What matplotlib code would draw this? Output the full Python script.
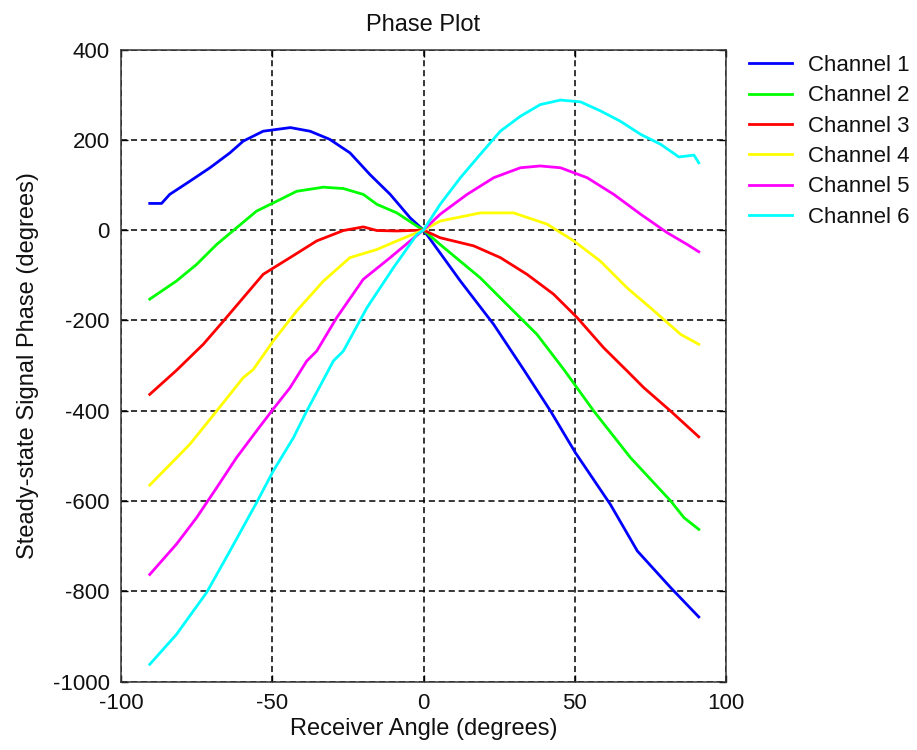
import matplotlib
matplotlib.use("Agg")
import matplotlib.pyplot as plt
import numpy as np

plt.rcParams['font.family'] = ['Liberation Sans', 'DejaVu Sans']
plt.rcParams['axes.unicode_minus'] = False

labels = ["Channel 1", "Channel 2", "Channel 3", "Channel 4", "Channel 5", "Channel 6"]
colors = ["#0000ff", "#00ff00", "#ff0000", "#ffff00", "#ff00ff", "#00ffff"]

ch1_x = [-90.5, -86.6, -83.9, -77.3, -70.6, -64, -59.6, -53, -44, -37.5, -31, -24.3, -17.7, -11, -4.4, 0,
         1.1, 12.2, 23.2, 33.1, 42, 50.2, 61.8, 70.7, 81.7, 91]
ch1_y = [59, 59, 79, 108, 138, 171, 197, 219, 227, 219, 201, 171, 123, 79, 27, 0,
         -10, -113, -209, -309, -401, -493, -608, -711, -792, -857]

ch2_x = [-90.5, -81.7, -75, -68.4, -61.8, -55.2, -48.5, -41.9, -33.1, -26.5, -19.9, -15.4, -8.8, -2.2, 0,
         5.5, 18.8, 27.6, 37.5, 46.4, 56.3, 68.4, 81.7, 86.1, 91]
ch2_y = [-153, -113, -76, -32, 5, 42, 64, 86, 95, 92, 79, 57, 38, 9, 0,
         -32, -106, -165, -231, -309, -401, -504, -600, -637, -663]

ch3_x = [-90.5, -81.7, -72.8, -66.2, -59.6, -53, -44.1, -35.3, -26.5, -19.9, -15.4, -8.8, 0,
         5.5, 16.6, 25.4, 34.2, 43, 50.8, 59.6, 67.3, 72.8, 81.7, 91]
ch3_y = [-364, -311, -253, -202, -150, -98, -61, -24, -1, 7, -1, -2, 0,
         -17, -35, -61, -98, -142, -194, -261, -312, -349, -401, -458]

ch4_x = [-90.5, -77.3, -68.4, -59.6, -56.3, -49.7, -41.9, -33.1, -24.3, -15.4, -8.8, 0,
         5.5, 18.8, 29.8, 40.9, 49.7, 58.5, 67.3, 76.2, 85, 91]
ch4_y = [-565, -475, -401, -327, -309, -246, -179, -113, -61, -43, -24, 0,
         20, 38, 38, 13, -24, -69, -128, -179, -231, -253]

ch5_x = [-90.5, -81.7, -75, -68.4, -61.8, -55.2, -50.2, -44.1, -38.6, -35.3, -28.7, -19.9, -11, -4.4, 0,
         5.5, 14.4, 23.2, 32, 38.6, 45.3, 54.1, 62.9, 71.8, 80.6, 87.2, 91]
ch5_y = [-763, -696, -637, -571, -504, -445, -401, -349, -290, -268, -194, -109, -61, -24, 0,
         35, 79, 116, 138, 142, 138, 116, 79, 35, -6, -32, -48]

ch6_x = [-90.5, -81.7, -71.7, -64, -55.2, -49.7, -43, -38.6, -29.8, -26.5, -18.7, -9.9, -2.2, 0,
         5.5, 12.2, 18.8, 25.4, 32, 38.6, 45.3, 51.9, 58.5, 65.1, 71.8, 78.4, 84.4, 89.4, 91]
ch6_y = [-962, -896, -803, -711, -604, -534, -460, -401, -290, -268, -172, -83, -10, 0,
         57, 116, 168, 219, 252, 278, 288, 284, 264, 241, 212, 190, 162, 166, 149]

xs = [ch1_x, ch2_x, ch3_x, ch4_x, ch5_x, ch6_x]
ys = [ch1_y, ch2_y, ch3_y, ch4_y, ch5_y, ch6_y]

W, H = 917, 750
fig = plt.figure(figsize=(W / 100, H / 100), dpi=100)
ax = fig.add_axes([121 / W, 1 - 681.5 / H, (726 - 121) / W, (681.5 - 49.5) / H])

for x, y, c, l in zip(xs, ys, colors, labels):
    ax.plot(x, y, color=c, lw=2.0, label=l)

ax.set_xlim(-100, 100)
ax.set_ylim(-1000, 400)
ax.set_xticks([-100, -50, 0, 50, 100])
ax.set_yticks([-1000, -800, -600, -400, -200, 0, 200, 400])
ax.grid(True, color='black', linestyle=(0, (4, 2.5)), lw=1.1)
ax.tick_params(direction='in', labelsize=16, length=5, width=1.0, colors='black',
               top=True, right=True, pad=8, labelcolor='#111111')
for s in ax.spines.values():
    s.set_color('#333333')
    s.set_linewidth(1.1)

ax.set_title("Phase Plot", fontsize=17, pad=13, color='#111111')
ax.set_xlabel("Receiver Angle (degrees)", fontsize=17, labelpad=3, color='#111111')
ax.set_ylabel("Steady-state Signal Phase (degrees)", fontsize=17, labelpad=10, color='#111111')

leg = ax.legend(loc='upper left', bbox_to_anchor=(749 / W, 1 - 55 / H),
                bbox_transform=fig.transFigure, frameon=False,
                fontsize=16, handlelength=1.95, handletextpad=0.7, labelspacing=0.42,
                borderaxespad=0.0, borderpad=0.0)
for t in leg.get_texts():
    t.set_color('#111111')

fig.savefig("out.png", dpi=100)
